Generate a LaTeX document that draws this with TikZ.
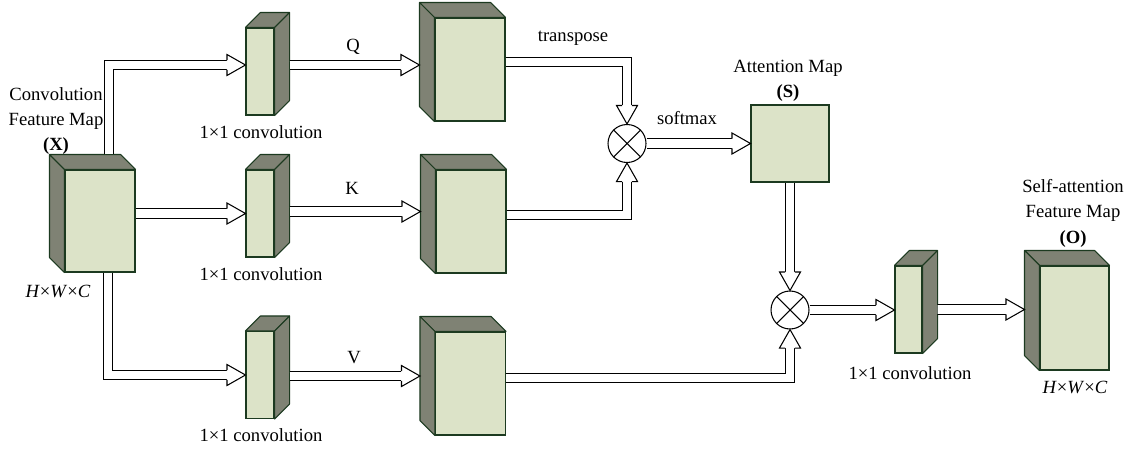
\documentclass[tikz,border=0pt]{standalone}
\usepackage{fontspec}
\setmainfont{Liberation Serif}
\usepackage{xcolor}
\definecolor{facegreen}{RGB}{220,227,200}
\definecolor{sidegrey}{RGB}{127,130,116}
\definecolor{edgegreen}{RGB}{28,58,32}

\begin{document}
\begin{tikzpicture}[x=0.02cm, y=-0.02cm,
  every node/.style={font=\fontsize{10.6}{14.5}\selectfont},
  face/.style={draw=edgegreen, fill=facegreen, line width=0.6pt, inner sep=0pt},
  convbox/.style={face, minimum width=0.56cm, minimum height=1.74cm},
  mapbox/.style={face, minimum width=1.4cm, minimum height=2.06cm},
  side/.style={draw=edgegreen, fill=sidegrey, line width=0.6pt, line join=round},
  mult/.style={circle, draw, fill=white, line width=0.6pt, minimum size=0.76cm, inner sep=0pt,
    path picture={\draw[line width=0.6pt] (path picture bounding box.north west) -- (path picture bounding box.south east)
      (path picture bounding box.north east) -- (path picture bounding box.south west);}},
  shaft/.style={draw=black, line width=0.6pt, double=white, double distance=5pt, line join=miter, shorten >=0.37cm},
  hhead/.pic={
    \fill[white] (0,0) -- (-18.5,10.5) -- (-18.5,-10.5) -- cycle;
    \draw[line width=0.6pt, line join=miter] (-18.5,4.9) -- (-18.5,10.5) -- (0,0) -- (-18.5,-10.5) -- (-18.5,-4.9);}]
  \useasboundingbox (0,0) rectangle (1138,450);
  % front faces of the feature maps
  \node[mapbox, minimum height=2.04cm] (X) at (100,221) {};
  \node[convbox] (Qc) at (260,71.5) {};
  \node[convbox] (Kc) at (260,213.5) {};
  \node[convbox] (Vc) at (260,375) {};
  \node[mapbox] (Q) at (470,69.5) {};
  \node[mapbox] (K) at (471,221.5) {};
  \node[mapbox] (V) at (470.5,383.5) {};
  \node[face, minimum width=1.56cm, minimum height=1.54cm] (S) at (790,143.5) {};
  \node[convbox, minimum width=0.54cm] (Oc) at (908.5,309.5) {};
  \node[mapbox, minimum width=1.38cm, minimum height=2.08cm] (O) at (1074.5,318) {};
  \node[mult] (M1) at (627,143.5) {};
  \node[mult] (M2) at (790,310) {};
  % depth to the upper left
  \foreach \b in {X,Q,K,V,O} {
    \draw[side] (\b.north west) -- ++(-15,-15) -- ([shift={(-15,-15)}]\b.north east) -- (\b.north east) -- cycle;
    \draw[side] (\b.north west) -- ++(-15,-15) -- ([shift={(-15,-15)}]\b.south west) -- (\b.south west) -- cycle;
  }
  % depth to the upper right
  \foreach \b in {Qc,Kc,Vc,Oc} {
    \draw[side] (\b.north west) -- ++(15,-15) -- ([shift={(15,-15)}]\b.north east) -- (\b.north east) -- cycle;
    \draw[side] (\b.north east) -- ++(15,-15) -- ([shift={(15,-15)}]\b.south east) -- (\b.south east) -- cycle;
  }
  % X to the 1x1 convolutions
  \draw[shaft] ([shift={(9,-15)}]X.north) |- ([shift={(0,-6.5)}]Qc.west) coordinate (q1);
  \pic at (q1) {hhead};
  \draw[shaft] (X.east |- Kc.west) -- (Kc.west);
  \pic at (Kc.west) {hhead};
  \draw[shaft] ([xshift=0.16cm]X.south) |- (Vc.west);
  \pic at (Vc.west) {hhead};
  % convolutions to Q, K, V
  \draw[shaft] ([shift={(15,-6.5)}]Qc.east) -- ([shift={(-15,-4.5)}]Q.west) coordinate (q2);
  \pic at (q2) {hhead};
  \draw[shaft] ([shift={(15,-2)}]Kc.east) -- ([shift={(-15,-10)}]K.west) coordinate (k2);
  \pic at (k2) {hhead};
  \draw[shaft] ([shift={(15,1)}]Vc.east) -- ([shift={(-15,-7.5)}]V.west) coordinate (v2);
  \pic at (v2) {hhead};
  % attention map
  \draw[shaft] ([shift={(0,-7.5)}]Q.east) -| (M1.north);
  \pic[rotate=-90] at (M1.north) {hhead};
  \draw[shaft] ([shift={(0,-6.5)}]K.east) -| (M1.south);
  \pic[rotate=90] at (M1.south) {hhead};
  \draw[shaft] (M1.east) -- (S.west);
  \pic at (S.west) {hhead};
  % output branch
  \draw[shaft] (S.south) -- (M2.north);
  \pic[rotate=-90] at (M2.north) {hhead};
  \draw[shaft] ([shift={(0,-5.5)}]V.east) -| (M2.south);
  \pic[rotate=90] at (M2.south) {hhead};
  \draw[shaft] (M2.east) -- (M2.east -| Oc.west) coordinate (o1);
  \pic at (o1) {hhead};
  \draw[shaft] ([xshift=0.3cm]Oc.east) -- ([shift={(-15,-8.5)}]O.west) coordinate (o2);
  \pic at (o2) {hhead};
  % labels
  \node[align=center] (xlab) at (56,121) {Convolution\\Feature Map\\\textbf{(X)}};
  \node (xdim) at (58,291) {\textit{H}×\textit{W}×\textit{C}};
  \node (qclab) at (261,132) {1×1 convolution};
  \node (kclab) at (261,274) {1×1 convolution};
  \node (vclab) at (261,435) {1×1 convolution};
  \node (qlab) at (353,47) {Q};
  \node (klab) at (352,188) {K};
  \node (vlab) at (354,358) {V};
  \node (tlab) at (573,38) {transpose};
  \node (smlab) at (687,118) {softmax};
  \node[align=center] (slab) at (788,81) {Attention Map\\\textbf{(S)}};
  \node (oclab) at (910,373) {1×1 convolution};
  \node[align=center] (olab) at (1073,213) {Self-attention\\Feature Map\\\textbf{(O)}};
  \node (odim) at (1075,387) {\textit{H}×\textit{W}×\textit{C}};
\end{tikzpicture}
\end{document}
